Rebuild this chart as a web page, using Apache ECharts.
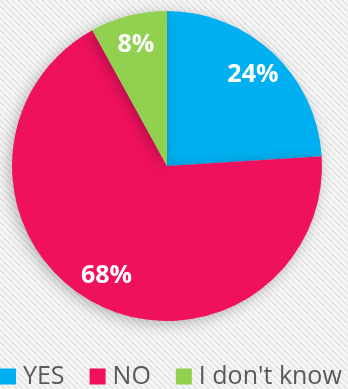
<!DOCTYPE html>
<html>
<head>
<meta charset="utf-8">
<script src="https://cdn.jsdelivr.net/npm/echarts@6/dist/echarts.min.js"></script>
<style>
html,body{margin:0;padding:0;}
#c{width:348px;height:389px;}
</style>
</head>
<body>
<div id="c"></div>
<script>
const categories = ["YES", "NO", "I don't know"];
const values = [24, 68, 8];
const colors = ["#00B0F0", "#F0115E", "#92D050"];

// diagonal stripe background
const pat = document.createElement('canvas');
pat.width = 6; pat.height = 6;
const pc = pat.getContext('2d');
pc.fillStyle = '#f7f7f7';
pc.fillRect(0, 0, 6, 6);
pc.strokeStyle = '#e4e4e4';
pc.lineWidth = 1.6;
pc.beginPath();
pc.moveTo(-1, -1); pc.lineTo(7, 7);
pc.moveTo(-4, 2); pc.lineTo(2, 8);
pc.moveTo(2, -4); pc.lineTo(8, 2);
pc.stroke();

const data = categories.map((n, i) => ({ name: n, value: values[i], itemStyle: { color: colors[i] } }));
const labelData = categories.map((n, i) => ({ name: n, value: values[i] }));

const chart = echarts.init(document.getElementById('c'), null, { renderer: 'canvas' });
chart.setOption({
  backgroundColor: { image: pat, repeat: 'repeat' },
  animation: false,
  legend: {
    top: 359,
    left: -5,
    width: 420,
    itemWidth: 16,
    itemHeight: 16,
    itemGap: 25,
    icon: 'rect',
    textStyle: { fontFamily: 'Open Sans', fontSize: 25, color: '#595959', padding: [0, 0, 0, 2] },
    data: categories.map((n, i) => ({ name: n, itemStyle: { color: colors[i] } }))
  },
  series: [
    {
      type: 'pie',
      center: [167, 166],
      radius: [0, 155],
      startAngle: 90,
      clockwise: true,
      data: data,
      label: { show: false },
      labelLine: { show: false },
      itemStyle: { shadowBlur: 14, shadowColor: 'rgba(0,0,0,0.25)', shadowOffsetX: -3, shadowOffsetY: 3 },
      emphasis: { disabled: true }
    },
    {
      type: 'pie',
      center: [167, 166],
      radius: [90, 155],
      startAngle: 90,
      clockwise: true,
      silent: true,
      data: labelData,
      itemStyle: { color: 'rgba(0,0,0,0)' },
      label: {
        show: true,
        position: 'inside',
        formatter: '{d}%',
        color: '#ffffff',
        fontFamily: 'Open Sans',
        fontWeight: 'bold',
        fontSize: 25
      },
      labelLine: { show: false },
      emphasis: { disabled: true }
    }
  ]
});
</script>
</body>
</html>
